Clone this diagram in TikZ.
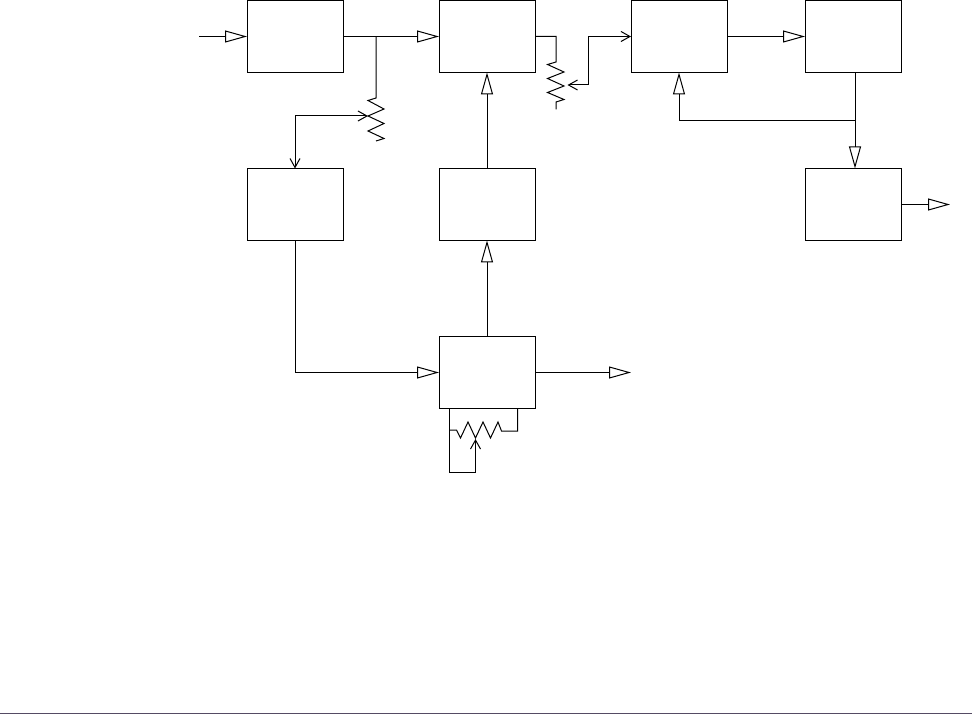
\documentclass[tikz,border=0pt]{standalone}
\usetikzlibrary{arrows.meta,positioning}
\definecolor{ink}{RGB}{0,0,0}
\definecolor{rule}{RGB}{85,75,100}
\tikzset{
  blockbox/.style={draw=ink,line width=1pt,outer sep=0pt,minimum width=96pt,minimum height=72pt},
  flow/.style={draw=ink,line width=1pt,-{Triangle[open,length=22pt,width=12pt]}},
  wiper/.style={draw=ink,line width=1pt,-{Straight Barb[length=9pt,width=10pt]}},
  wiperboth/.style={draw=ink,line width=1pt,{Straight Barb[length=9pt,width=10pt]}-{Straight Barb[length=9pt,width=10pt]}},
  wire/.style={draw=ink,line width=1pt}
}
\begin{document}
\begin{tikzpicture}[x=1pt,y=-1pt]
        \useasboundingbox (0,0) rectangle (972,714);
        % blocks
        \node[blockbox] (inbox) at (295,36.5) {};
        \node[blockbox] (midbox) at (487,36.5) {};
        \node[blockbox] (gainbox) at (679,36.5) {};
        \node[blockbox] (outbox) at (853,36.5) {};
        \node[blockbox] (sidebox) at (295,204.5) {};
        \node[blockbox] (upbox) at (487,204.5) {};
        \node[blockbox] (lastbox) at (853,204.5) {};
        \node[blockbox] (sumbox) at (487,372.5) {};
        % free ends and junctions
        \coordinate (instart) at (199,36.5);
        \coordinate (lastend) at (950,204.5);
        \coordinate (sumend) at (631,372.5);
        \coordinate (tapa) at (376,36.5);
        \coordinate (potatop) at (376,98);
        \coordinate (potatap) at (368,116);
        \coordinate (potbtop) at (556,62);
        \coordinate (potbtap) at (567.5,85);
        \coordinate (potbbend) at (588,85);
        \coordinate (potcleft) at (449.5,430);
        \coordinate (potcright) at (517.5,431);
        \coordinate (potctap) at (475.5,439);
        \coordinate (potcloop) at (449.5,472.5);
        \coordinate (potcfoot) at (475.5,472.5);
        \coordinate (tapd) at (855,120.5);
        % main flow
        \draw[flow] (instart) -- (inbox);
        \draw[flow] (inbox) -- (midbox);
        \draw[flow] (gainbox) -- (outbox);
        \draw[flow] (lastbox) -- (lastend);
        \draw[flow] (sumbox) -- (sumend);
        \draw[flow] (upbox) -- (midbox);
        \draw[flow] (sumbox) -- (upbox);
        \draw[flow] (sidebox.south) |- (sumbox.west);
        \draw[flow] (outbox.south -| tapd) -- (lastbox.north -| tapd);
        \draw[flow] (tapd) -| (gainbox.south);
        % first divider
        \draw[wire] (tapa) -- (potatop) -- ++(-8,2.5) -- ++(16,8.5) -- ++(-16,7) -- ++(16,7.5) -- ++(-16,7.5) -- ++(16,7.5) -- ++(-8,2.5);
        \draw[wiperboth] (sidebox.north) |- (potatap);
        % second divider
        \draw[wire] (midbox.east) -- (midbox.east -| potbtop) -- (potbtop) -- ++(-8.5,2.5) -- ++(16.5,7.5) -- ++(-16.5,6.5) -- ++(16.5,7.5) -- ++(-16.5,6.5) -- ++(16.5,7) -- ++(-8,2.5) -- ++(0,7.5);
        \draw[wiper] (potbbend) -- (potbtap);
        \draw[wiper] (potbbend) |- (gainbox.west);
        % feedback trimmer
        \draw[wire] (sumbox.south -| potcright) -- (potcright) -- ++(-16,0) -- ++(-3.5,-9) -- ++(-7.5,16) -- ++(-7.5,-16) -- ++(-7.5,16) -- ++(-7.5,-16) -- ++(-7.5,16) -- ++(-4,-8) -- (potcleft);
        \draw[wire] (sumbox.south -| potcleft) -- (potcloop) -- (potcfoot);
        \draw[wiper] (potcfoot) -- (potctap);
        % bottom rule
        \draw[draw=rule,line width=1pt] (0,713.5) -- (972,713.5);
      \end{tikzpicture}
\end{document}
